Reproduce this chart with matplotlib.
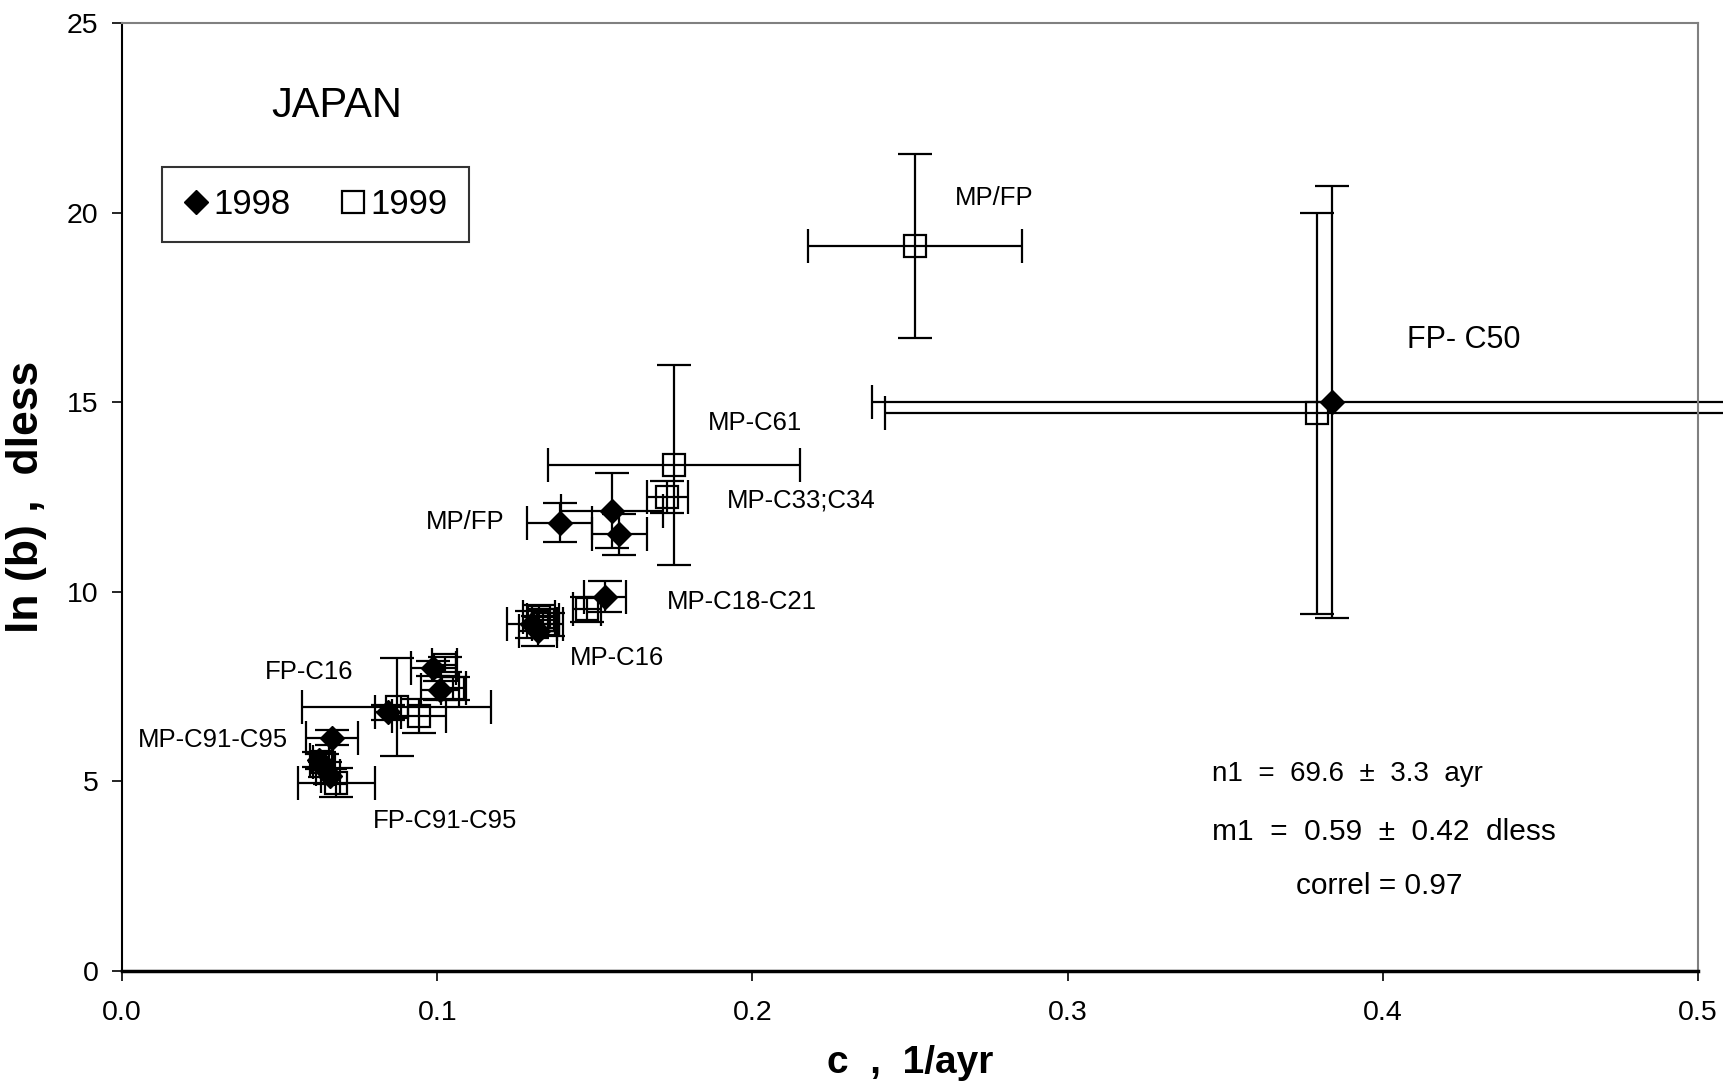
import matplotlib
matplotlib.use("Agg")
import matplotlib.pyplot as plt
from matplotlib.lines import Line2D

plt.rcParams['font.family'] = ['Liberation Sans', 'DejaVu Sans']

# 1998 series (filled diamonds)
c_1998 = [0.384, 0.1388, 0.1554, 0.1578, 0.1533, 0.1301, 0.1319, 0.0988, 0.1009,
          0.0844, 0.0666, 0.0625, 0.0645, 0.0660]
lnb_1998 = [15.0, 11.82, 12.14, 11.51, 9.87, 9.14, 8.96, 7.98, 7.40,
            6.82, 6.15, 5.57, 5.31, 5.13]
cerr_1998 = [0.146, 0.0102, 0.0161, 0.0086, 0.0066, 0.008, 0.006, 0.007, 0.006,
             0.004, 0.0082, 0.003, 0.003, 0.003]
lnberr_1998 = [5.7, 0.51, 1.0, 0.55, 0.41, 0.35, 0.4, 0.2, 0.25,
               0.2, 0.2, 0.2, 0.2, 0.2]

# 1999 series (open squares)
c_1999 = [0.2516, 0.379, 0.1752, 0.173, 0.1474, 0.1322, 0.1336, 0.1350, 0.1024,
          0.1051, 0.0872, 0.0942, 0.0635, 0.0680]
lnb_1999 = [19.11, 14.70, 13.34, 12.5, 9.53, 9.34, 9.25, 9.14, 8.07,
            7.45, 6.96, 6.73, 5.51, 4.96]
cerr_1999 = [0.034, 0.137, 0.040, 0.0064, 0.0045, 0.005, 0.005, 0.005, 0.004,
             0.004, 0.030, 0.0085, 0.003, 0.0123]
lnberr_1999 = [2.42, 5.3, 2.64, 0.42, 0.33, 0.3, 0.3, 0.3, 0.2,
               0.3, 1.3, 0.45, 0.2, 0.38]

# point labels
label_texts = ["MP/FP", "FP- C50", "MP-C61", "MP-C33;C34", "MP/FP", "MP-C18-C21",
               "MP-C16", "FP-C16", "MP-C91-C95", "FP-C91-C95"]
label_x = [0.2641, 0.4075, 0.186, 0.1919, 0.0963, 0.1727, 0.142, 0.0454, 0.0049, 0.0796]
label_y = [20.39, 16.65, 14.44, 12.41, 11.83, 9.72, 8.24, 7.89, 6.09, 3.94]
label_sizes = [18.5, 22, 18.5, 18.5, 18.5, 18.5, 18.5, 18.5, 18.5, 18.5]

stats_lines = ["n1  =  69.6  \u00b1  3.3  ayr", "m1  =  0.59  \u00b1  0.42  dless", "correl = 0.97"]
stats_x = [0.3887, 0.4002, 0.3988]
stats_y = [5.19, 3.65, 2.23]
stats_sizes = [20, 21.5, 21.5]

xticks = [0.0, 0.1, 0.2, 0.3, 0.4, 0.5]
yticks = [0, 5, 10, 15, 20, 25]

fig = plt.figure(figsize=(17.24, 10.92), dpi=100)
ax = fig.add_axes([0.0708, 0.111, 0.9142, 0.868])

ax.errorbar(c_1998, lnb_1998, xerr=cerr_1998, yerr=lnberr_1998, fmt='none',
            ecolor='black', elinewidth=1.6, capsize=12, capthick=1.6, clip_on=False, zorder=2)
ax.errorbar(c_1999, lnb_1999, xerr=cerr_1999, yerr=lnberr_1999, fmt='none',
            ecolor='black', elinewidth=1.6, capsize=12, capthick=1.6, clip_on=False, zorder=2)
ax.plot(c_1998, lnb_1998, linestyle='none', marker='D', markersize=12,
        markerfacecolor='black', markeredgecolor='black', zorder=3)
ax.plot(c_1999, lnb_1999, linestyle='none', marker='s', markersize=16,
        markerfacecolor='none', markeredgecolor='black', markeredgewidth=1.6, zorder=3)

for t, x, y, s in zip(label_texts, label_x, label_y, label_sizes):
    ax.text(x, y, t, fontsize=s, ha='left', va='center')

for t, x, y, s in zip(stats_lines, stats_x, stats_y, stats_sizes):
    ax.text(x, y, t, fontsize=s, ha='center', va='center')

ax.text(0.068, 22.8, "JAPAN", fontsize=30, ha='center', va='center')

ax.set_xlim(0, 0.5)
ax.set_ylim(0, 25)
ax.set_xticks(xticks)
ax.set_xticklabels([f"{v:.1f}" for v in xticks])
ax.set_yticks(yticks)
ax.set_yticklabels([str(v) for v in yticks])
ax.tick_params(axis='both', direction='out', length=7, width=1.2, labelsize=20.5, pad=10)
ax.tick_params(axis='x', pad=14)

for side in ['top', 'right']:
    ax.spines[side].set_color('#808080')
    ax.spines[side].set_linewidth(1.5)
ax.spines['left'].set_linewidth(1.5)
ax.spines['bottom'].set_linewidth(2.5)

ax.set_xlabel("c  ,  1/ayr", fontsize=28, fontweight='bold', labelpad=14)
ax.set_ylabel("ln (b) ,  dless", fontsize=32, fontweight='bold', labelpad=14)

handles = [
    Line2D([], [], linestyle='none', marker='D', markersize=12, markerfacecolor='black',
           markeredgecolor='black'),
    Line2D([], [], linestyle='none', marker='s', markersize=16, markerfacecolor='none',
           markeredgecolor='black', markeredgewidth=1.6),
]
leg = ax.legend(handles, ["1998", "1999"], loc='upper left', bbox_to_anchor=(0.0251, 0.848),
                ncol=2, fontsize=25, frameon=True, fancybox=False, edgecolor='black',
                borderaxespad=0, handlelength=0.8, handletextpad=0.1, columnspacing=1.4,
                borderpad=0.6)
leg.get_frame().set_linewidth(1.5)

fig.savefig("out.png", dpi=100, facecolor='white')
